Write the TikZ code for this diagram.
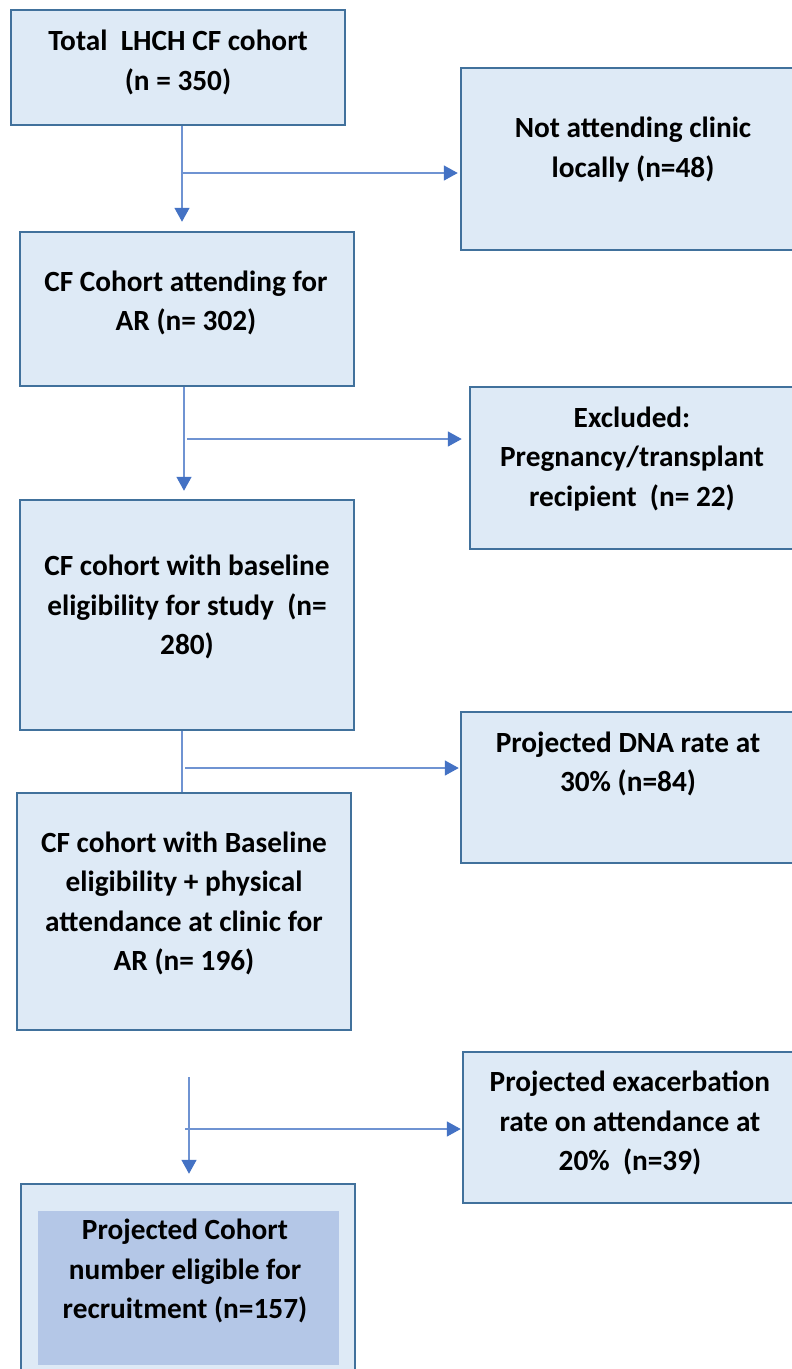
\documentclass[tikz,border=0pt]{standalone}
\usepackage{fontspec}
\setmainfont{Carlito}
\usetikzlibrary{arrows.meta,calc}
\definecolor{boxfill}{HTML}{DEEAF6}
\definecolor{boxline}{HTML}{41719C}
\definecolor{arrcol}{HTML}{4472C4}
\definecolor{linecol}{HTML}{6F93D2}
\definecolor{innerfill}{HTML}{B4C7E7}
\tikzset{
  box/.style={draw=boxline, fill=boxfill, line width=2.5pt, inner sep=0pt},
  lbl/.style={align=center, font=\fontsize{29.3}{39.3}\selectfont\bfseries, inner sep=0pt},
  conn/.style={draw=linecol, line width=1.6pt},
  arr/.style={conn, -{Triangle[length=14pt,width=15pt,color=arrcol]}},
}
\begin{document}
\begin{tikzpicture}[x=1pt,y=-1pt]
\clip (0,0) rectangle (792,1369);
\fill[white] (0,0) rectangle (792,1369);
% boxes
\node[box, minimum width=334pt, minimum height=115pt] (b1) at (178,67.5) {};
\node[box, minimum width=345pt, minimum height=182pt] (b2) at (633.5,159) {};
\node[box, minimum width=334pt, minimum height=154pt] (b3) at (187,309) {};
\node[box, minimum width=336pt, minimum height=162pt] (b4) at (638,468) {};
\node[box, minimum width=334pt, minimum height=230pt] (b5) at (187,615) {};
\node[box, minimum width=345pt, minimum height=151pt] (b6) at (633.5,787.5) {};
\node[box, minimum width=334pt, minimum height=237pt] (b7) at (184,911.5) {};
\node[box, minimum width=343pt, minimum height=151pt] (b8) at (634.5,1127.5) {};
\node[box, minimum width=334pt, minimum height=220pt] (b9) at (188,1294) {};
\node[fill=innerfill, minimum width=301pt, minimum height=154pt, inner sep=0pt] (b9in) at (188.5,1288) {};
% labels
\node[lbl] (t1) at (178,62.5) {Total\ \ LHCH CF cohort\\(n = 350)};
\node[lbl] (t2) at (633,149.5) {Not attending clinic\\locally (n=48)};
\node[lbl] (t3) at (186,303) {CF Cohort attending for\\AR (n= 302)};
\node[lbl] (t4) at (632,459) {Excluded:\\Pregnancy/transplant\\recipient\ \ (n= 22)};
\node[lbl] (t5) at (187,607) {CF cohort with baseline\\eligibility for study\ \ (n=\\280)};
\node[lbl] (t6) at (628,764) {Projected DNA rate at\\30\% (n=84)};
\node[lbl] (t7) at (184,903.5) {CF cohort with Baseline\\eligibility + physical\\attendance at clinic for\\AR (n= 196)};
\node[lbl] (t8) at (630,1123) {Projected exacerbation\\rate on attendance at\\20\%\ \ (n=39)};
\node[lbl] (t9) at (185,1271) {Projected Cohort\\number eligible for\\recruitment (n=157)};
% connectors
\coordinate (v1) at (182,0);
\coordinate (h1) at (183,173);
\draw[arr, shorten >=9pt] (b1.south -| v1) -- (b3.north -| v1);
\draw[arr, shorten >=2pt] (h1) -- (h1 -| b2.west);
\coordinate (v2) at (184,0);
\coordinate (h2) at (187,439);
\draw[arr, shorten >=8pt] (b3.south -| v2) -- (b5.north -| v2);
\draw[arr, shorten >=7pt] (h2) -- (h2 -| b4.west);
\coordinate (v3) at (182,0);
\coordinate (h3) at (185,768);
\draw[conn] (b5.south -| v3) -- (b7.north -| v3);
\draw[arr, shorten >=1pt] (h3) -- (h3 -| b6.west);
\coordinate (s4) at (189,1077);
\coordinate (h4) at (185,1129);
\draw[arr, shorten >=9pt] (s4) -- (s4 |- b9.north);
\draw[arr, shorten >=1pt] (h4) -- (h4 -| b8.west);
\end{tikzpicture}
\end{document}
